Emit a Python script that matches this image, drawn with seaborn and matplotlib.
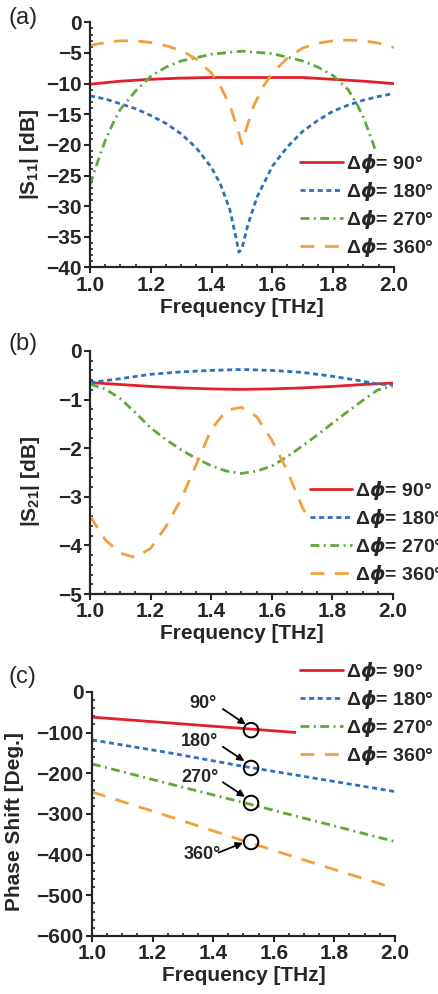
import numpy as np
import pandas as pd
import matplotlib
matplotlib.use("Agg")
import matplotlib.pyplot as plt
import matplotlib.ticker as mticker
import seaborn as sns

# ---------------- data ----------------
phases = ['90', '180', '270', '360']

# (a) |S11| [dB]
s11_f_90 = [1.0, 1.1, 1.2, 1.3, 1.4, 1.5, 1.6, 1.7, 1.8, 1.9, 2.0]
s11_v_90 = [-10.1, -9.6, -9.3, -9.1, -9.0, -9.0, -9.0, -9.0, -9.3, -9.6, -10.0]
s11_f_180 = [1.0, 1.05, 1.1, 1.15, 1.2, 1.25, 1.3, 1.35, 1.4, 1.43, 1.46, 1.48, 1.49, 1.5,
             1.52, 1.55, 1.58, 1.6, 1.65, 1.7, 1.75, 1.8, 1.85, 1.9, 1.95, 2.0]
s11_v_180 = [-12.0, -12.5, -13.3, -14.1, -15.2, -16.5, -18.2, -20.5, -23.7, -26.5, -30.5, -35.0, -37.5, -37.0,
             -33.0, -28.5, -25.5, -23.5, -20.3, -17.8, -16.0, -14.5, -13.5, -12.7, -12.1, -11.6]
s11_f_270 = [1.0, 1.02, 1.05, 1.08, 1.1, 1.15, 1.2, 1.25, 1.3, 1.4, 1.5, 1.6, 1.7, 1.75, 1.8,
             1.85, 1.88, 1.9, 1.93, 1.96, 2.0]
s11_v_270 = [-26.5, -23.5, -19.3, -16.0, -14.2, -11.2, -8.8, -7.3, -6.3, -5.2, -4.7, -5.1, -6.3, -7.3, -8.7,
             -11.0, -13.5, -15.5, -19.5, -24.0, -30.0]
s11_f_360 = [1.0, 1.05, 1.1, 1.15, 1.2, 1.25, 1.3, 1.35, 1.4, 1.43, 1.46, 1.48, 1.5, 1.52, 1.54,
             1.57, 1.6, 1.65, 1.7, 1.75, 1.8, 1.85, 1.9, 1.95, 2.0]
s11_v_360 = [-3.8, -3.3, -3.0, -3.0, -3.3, -3.8, -4.6, -6.0, -8.3, -10.5, -13.5, -16.5, -19.8, -16.5, -13.5,
             -10.5, -8.3, -5.8, -4.2, -3.4, -3.0, -2.9, -3.0, -3.4, -4.1]

# (b) |S21| [dB]
s21_f_90 = [1.0, 1.1, 1.2, 1.3, 1.4, 1.5, 1.6, 1.7, 1.8, 1.9, 2.0]
s21_v_90 = [-0.65, -0.69, -0.73, -0.76, -0.78, -0.79, -0.78, -0.76, -0.73, -0.69, -0.66]
s21_f_180 = [1.0, 1.1, 1.2, 1.3, 1.4, 1.5, 1.6, 1.7, 1.8, 1.9, 1.95, 2.0]
s21_v_180 = [-0.65, -0.57, -0.48, -0.43, -0.40, -0.38, -0.40, -0.44, -0.52, -0.62, -0.68, -0.70]
s21_f_270 = [1.0, 1.05, 1.1, 1.15, 1.2, 1.25, 1.3, 1.35, 1.4, 1.45, 1.5, 1.55, 1.6, 1.65, 1.7,
             1.75, 1.8, 1.85, 1.9, 1.95, 2.0]
s21_v_270 = [-0.68, -0.78, -0.98, -1.27, -1.58, -1.82, -2.03, -2.21, -2.36, -2.47, -2.52, -2.47, -2.37, -2.18, -1.96,
             -1.73, -1.49, -1.25, -1.02, -0.80, -0.72]
s21_f_360 = [1.0, 1.05, 1.1, 1.15, 1.2, 1.25, 1.3, 1.35, 1.4, 1.45, 1.5, 1.55, 1.6, 1.65, 1.7,
             1.75, 1.8, 1.85, 1.9, 1.95, 2.0]
s21_v_360 = [-3.40, -3.88, -4.16, -4.25, -4.06, -3.62, -3.06, -2.35, -1.62, -1.22, -1.16, -1.35, -1.83, -2.45, -3.20,
             -3.80, -4.15, -4.25, -4.10, -3.80, -3.45]

# (c) phase shift [deg]
ph_f = [1.0, 1.25, 1.5, 1.75, 2.0]
ph_v_90 = [-62, -76, -90, -104, -118]
ph_v_180 = [-118, -149, -183, -214, -245]
ph_v_270 = [-177, -225, -272, -320, -368]
ph_v_360 = [-246, -305, -366, -425, -483]

circle_f = [1.525, 1.525, 1.525, 1.525]
circle_v = [-94, -187, -273, -369]
note_labels = ['90°', '180°', '270°', '360°']

# ---------------- style ----------------
sns.set_style('ticks')
plt.rcParams['font.family'] = ['Liberation Sans', 'DejaVu Sans']
plt.rcParams['font.weight'] = 'bold'
plt.rcParams['axes.labelweight'] = 'bold'
plt.rcParams['mathtext.fontset'] = 'custom'
plt.rcParams['mathtext.rm'] = 'Liberation Sans:bold'
plt.rcParams['mathtext.bf'] = 'Liberation Sans:bold'
plt.rcParams['mathtext.it'] = 'DejaVu Sans:bold:italic'

colors = ['#e3202a', '#2f6fbf', '#5ea83a', '#f2a03d']
dash_list = ['', (1.8, 1.3), (3.2, 1.6, 0.7, 1.6), (5.0, 3.8)]
legend_labels = [r'$\Delta\phi$= ' + p + '°' for p in phases]
palette = dict(zip(legend_labels, colors))
dash_map = dict(zip(legend_labels, dash_list))
FS = 15


def long_df(pairs):
    parts = []
    for lab, (f, v) in zip(legend_labels, pairs):
        parts.append(pd.DataFrame({'f': f, 'v': v, 'phase': lab}))
    return pd.concat(parts, ignore_index=True)


def draw_panel(ax, pairs, ylim, ymaj, ymin, ylabel, leg_xy):
    df = long_df(pairs)
    sns.lineplot(data=df, x='f', y='v', hue='phase', style='phase',
                 hue_order=legend_labels, style_order=legend_labels,
                 palette=palette, dashes=dash_map, estimator=None, sort=False,
                 lw=2.0, legend=False, ax=ax)
    ax.set_xlim(1.0, 2.0)
    ax.set_ylim(*ylim)
    ax.xaxis.set_major_locator(mticker.MultipleLocator(0.2))
    ax.xaxis.set_minor_locator(mticker.MultipleLocator(0.05))
    ax.xaxis.set_major_formatter(mticker.FormatStrFormatter('%.1f'))
    ax.yaxis.set_major_locator(mticker.MultipleLocator(ymaj))
    ax.yaxis.set_minor_locator(mticker.MultipleLocator(ymin))
    ax.tick_params(which='major', direction='out', length=4, width=1.5, labelsize=FS, pad=2)
    ax.tick_params(which='minor', direction='in', length=2.5, width=1.2)
    for s in ['left', 'bottom']:
        ax.spines[s].set_linewidth(1.6)
        ax.spines[s].set_zorder(6)
    sns.despine(ax=ax)
    ax.set_xlabel('Frequency [THz]', fontsize=FS)
    ax.set_ylabel(ylabel, fontsize=FS)
    ax.xaxis.set_label_coords(0.5, -0.125)
    handles = ax.get_lines()[:4]
    leg = ax.legend(handles, legend_labels, loc='upper left', bbox_to_anchor=leg_xy,
                    fontsize=FS - 1, frameon=True, handlelength=2.2, handletextpad=0.15,
                    labelspacing=0.3, borderpad=0.2, borderaxespad=0)
    leg.get_frame().set_facecolor('white')
    leg.get_frame().set_edgecolor('none')
    leg.get_frame().set_alpha(1)
    leg.set_zorder(5)
    return ax


fig = plt.figure(figsize=(4.39, 9.94), dpi=100)

ax_a = fig.add_axes([0.205, 0.731, 0.692, 0.2465])
draw_panel(ax_a, [(s11_f_90, s11_v_90), (s11_f_180, s11_v_180),
                  (s11_f_270, s11_v_270), (s11_f_360, s11_v_360)],
           (-40, 0), 5, 1, r'|S$_{11}$| [dB]', (0.68, 0.485))
ax_a.yaxis.set_label_coords(-0.16, 0.46)

ax_b = fig.add_axes([0.205, 0.4024, 0.690, 0.2445])
draw_panel(ax_b, [(s21_f_90, s21_v_90), (s21_f_180, s21_v_180),
                  (s21_f_270, s21_v_270), (s21_f_360, s21_v_360)],
           (-5, 0), 1, 0.2, r'|S$_{21}$| [dB]', (0.712, 0.485))
ax_b.yaxis.set_label_coords(-0.16, 0.465)

ax_c = fig.add_axes([0.2096, 0.0584, 0.690, 0.2455])
draw_panel(ax_c, [(ph_f, ph_v_90), (ph_f, ph_v_180),
                  (ph_f, ph_v_270), (ph_f, ph_v_360)],
           (-600, 0), 100, 20, 'Phase Shift [Deg.]', (0.675, 1.145))
ax_c.yaxis.set_label_coords(-0.225, 0.467)

ax_c.scatter(circle_f, circle_v, s=110, facecolors='none', edgecolors='black',
             linewidths=1.4, zorder=4)
text_xy = [(1.368, -28), (1.355, -121), (1.355, -210), (1.363, -400)]
arrows = [((1.432, -42), (1.508, -80)), ((1.432, -135), (1.503, -170)),
          ((1.432, -222), (1.505, -258)), ((1.418, -395), (1.498, -371))]
for lab, (tx, ty), (tail, head) in zip(note_labels, text_xy, arrows):
    ax_c.text(tx, ty, lab, fontsize=13, ha='center', va='center')
    ax_c.annotate('', xy=head, xytext=tail,
                  arrowprops=dict(arrowstyle='-|>', color='black', lw=1.3,
                                  mutation_scale=10, shrinkA=0, shrinkB=0))

for lab, y in [('(a)', 0.993), ('(b)', 0.665), ('(c)', 0.33)]:
    fig.text(0.02, y, lab, fontsize=17, fontweight='normal', va='top', ha='left')

fig.savefig('out.png', dpi=100)
